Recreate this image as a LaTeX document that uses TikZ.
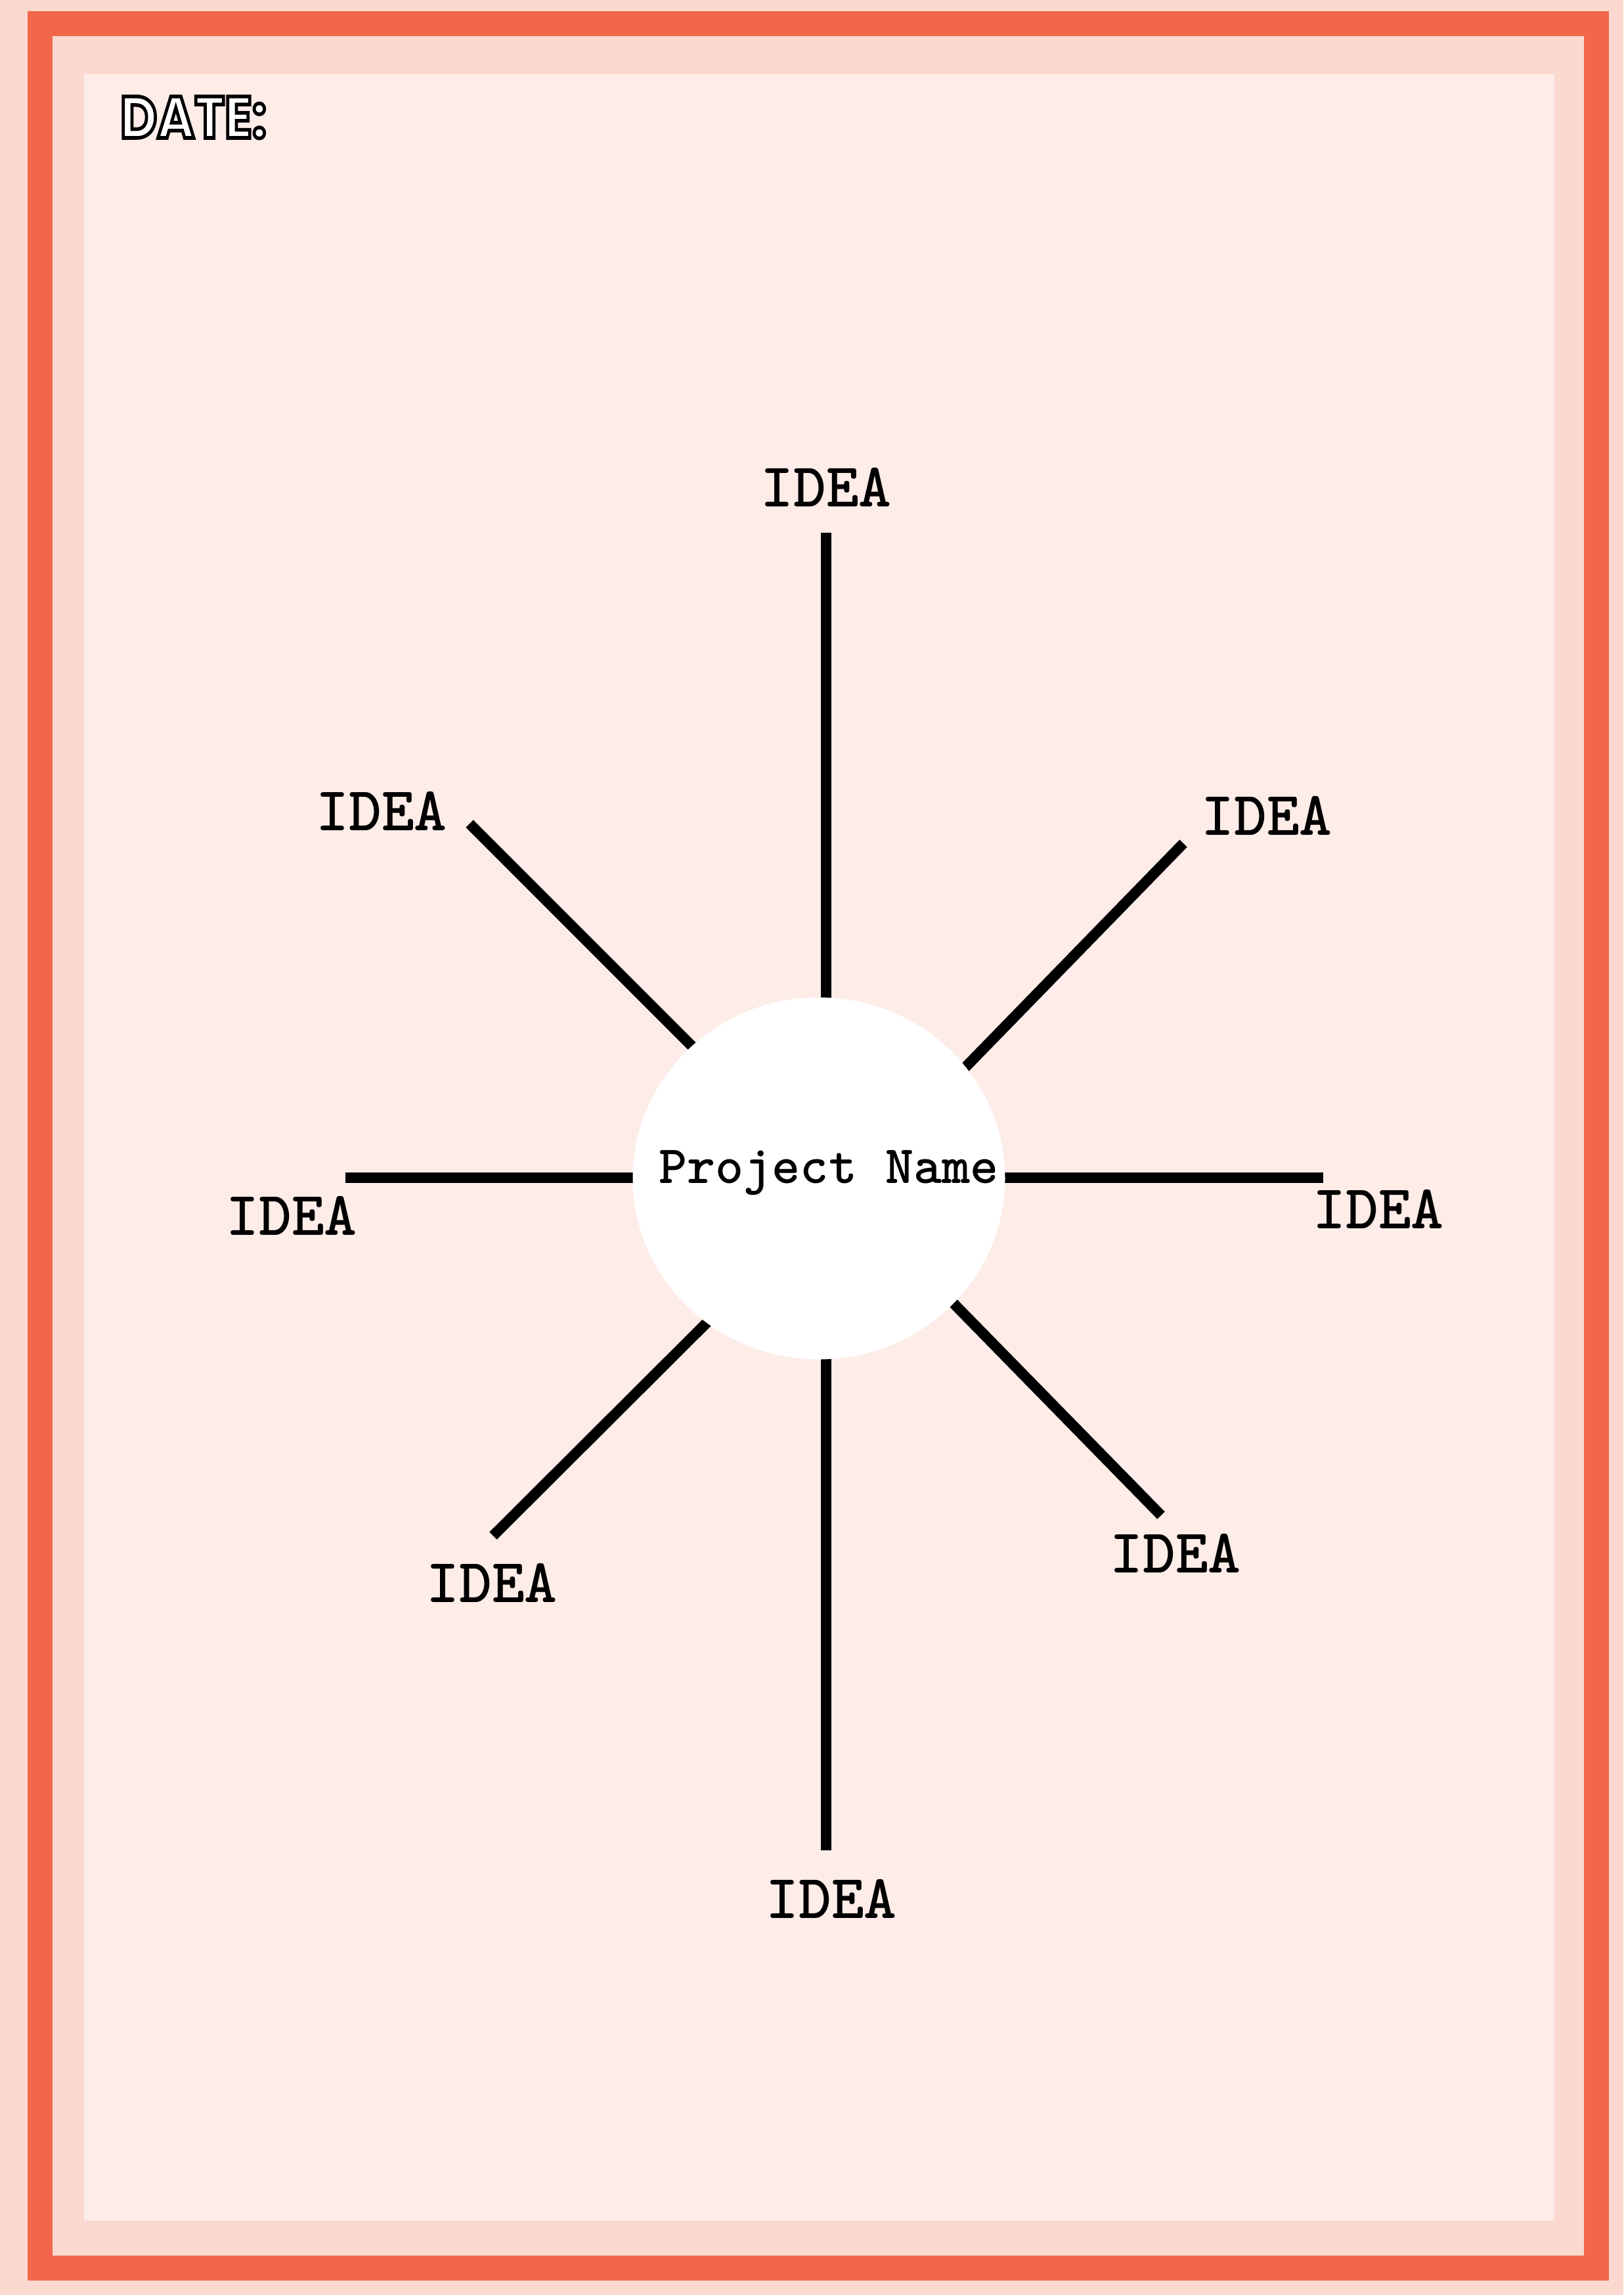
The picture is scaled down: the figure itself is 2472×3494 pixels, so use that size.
\documentclass[tikz,border=0pt]{standalone}
\usepackage{fontspec}
\usepackage{graphicx}
\usetikzlibrary{shapes.geometric}
\newfontfamily\datefont{Poppins}
\newcommand{\outlinetext}[1]{{\color{white}\special{pdf:literal direct 2 Tr 1.1 w 0 G}#1\special{pdf:literal direct 0 Tr}}}
\definecolor{outerpink}{HTML}{FBD9D0}
\definecolor{bandred}{HTML}{F2674B}
\definecolor{panelpink}{HTML}{FDECE8}
\begin{document}
\begin{tikzpicture}[x=0.2pt,y=-0.2pt,
  spoke/.style={line width=3.2pt,black},
  idea/.style={font=\fontsize{19}{21}\selectfont\ttfamily\bfseries,inner sep=0pt,text=black},
  hubnode/.style={ellipse,fill=white,draw=none,minimum width=567*0.2pt,minimum height=551*0.2pt,inner sep=0pt},
  pname/.style={font=\fontsize{16.4}{18}\selectfont\ttfamily\bfseries,inner sep=0pt,text=black}]
% backgrounds
\fill[outerpink] (0,0) rectangle (2472,3494);
\useasboundingbox (0,0) rectangle (2472,3494);
\fill[bandred] (42,17) rectangle (2450,3472);
\fill[outerpink] (80,55) rectangle (2412,3434);
\fill[panelpink] (128,113) rectangle (2367,3381);
% spoke end coordinates
\coordinate (tO) at (1258,811);  \coordinate (tI) at (1258,1560);
\coordinate (bO) at (1258,2817); \coordinate (bI) at (1258,2030);
\coordinate (lO) at (526,1793);  \coordinate (lI) at (1000,1793);
\coordinate (rO) at (2015,1793); \coordinate (rI) at (1495,1793);
\coordinate (ulO) at (715,1254); \coordinate (ulI) at (1075,1614);
\coordinate (urO) at (1802,1284); \coordinate (urI) at (1465,1630);
\coordinate (llO) at (751,2338); \coordinate (llI) at (1095,1995);
\coordinate (lrO) at (1768,2307); \coordinate (lrI) at (1440,1972);
\foreach \s in {t,b,l,r,ul,ur,ll,lr}{\draw[spoke] (\s O) -- (\s I);}
% centre
\node[hubnode] (pn) at (1247,1794) {};
\node[pname,anchor=base] (pntext) at (1262,1801) {Project Name};
% labels
\node[idea] (i1) at (1258,742) {IDEA};
\node[idea] (i2) at (581,1235) {IDEA};
\node[idea] (i3) at (1929,1242) {IDEA};
\node[idea] (i4) at (444,1851) {IDEA};
\node[idea] (i5) at (2099,1841) {IDEA};
\node[idea] (i6) at (749,2410) {IDEA};
\node[idea] (i7) at (1790,2365) {IDEA};
\node[idea] (i8) at (1266,2891) {IDEA};
% date
\node[anchor=base west,inner sep=0pt] (date) at (182,210)
  {\scalebox{0.86}[1]{\fontsize{18}{20}\selectfont\datefont\bfseries\outlinetext{DATE:}}};
\end{tikzpicture}
\end{document}
